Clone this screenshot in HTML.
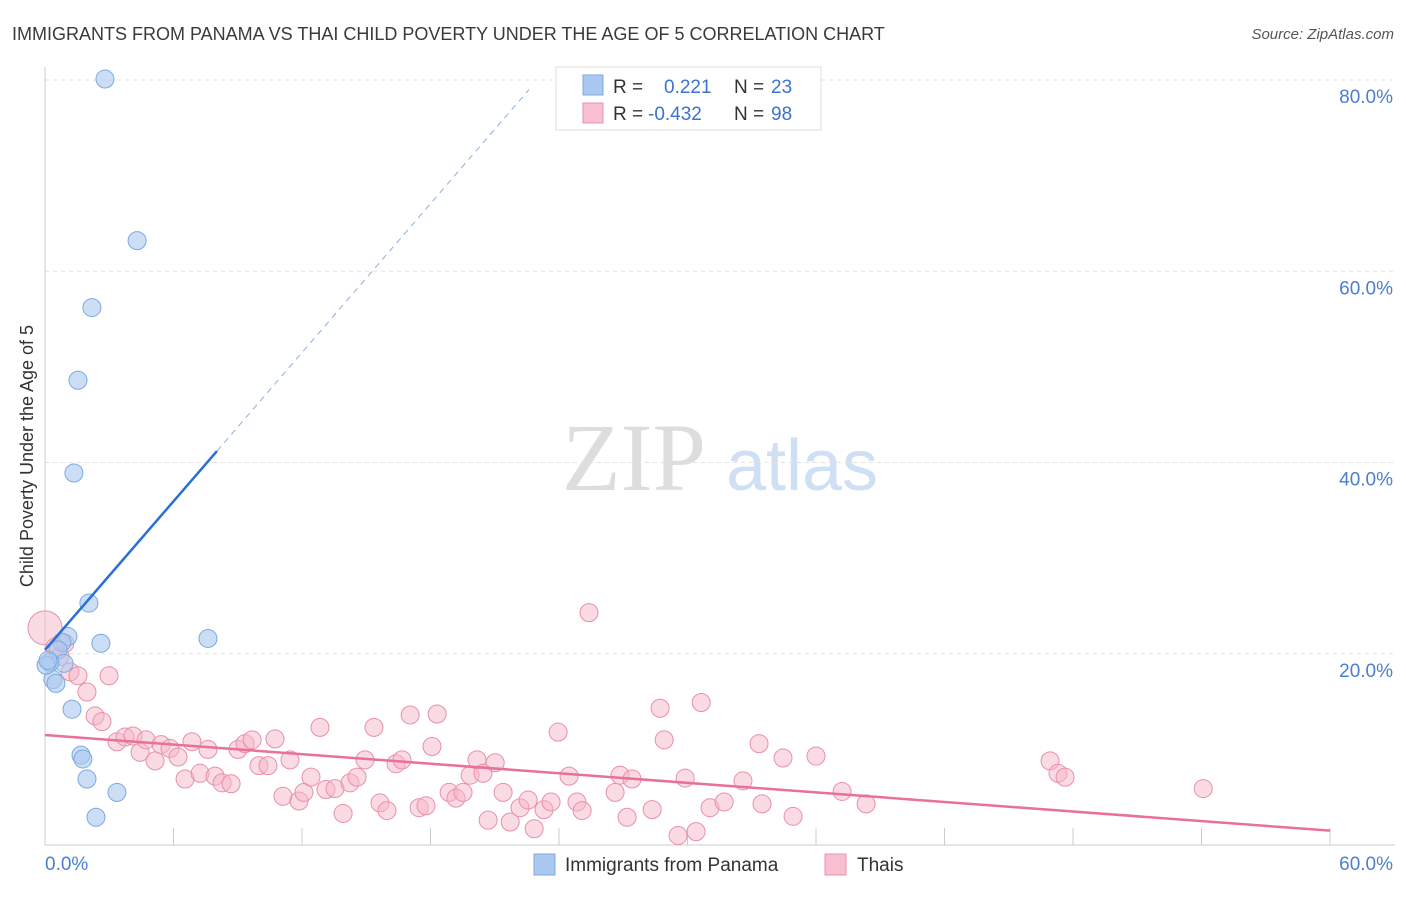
<!DOCTYPE html>
<html><head><meta charset="utf-8"><style>
body{margin:0;background:#fff;font-family:"Liberation Sans",sans-serif;}
</style></head><body>
<svg width="1406" height="892" xmlns="http://www.w3.org/2000/svg">
<text x="12" y="40" font-size="18" fill="#3a3a3a">IMMIGRANTS FROM PANAMA VS THAI CHILD POVERTY UNDER THE AGE OF 5 CORRELATION CHART</text>
<text x="1394" y="39" font-size="15" fill="#555" font-style="italic" text-anchor="end">Source: ZipAtlas.com</text>
<text transform="translate(33,456) rotate(-90)" font-size="18" fill="#333" text-anchor="middle">Child Poverty Under the Age of 5</text>
<g>
<text x="634" y="490" font-size="96" font-family="Liberation Serif,serif" fill="#ddd" text-anchor="middle">ZIP</text>
<text x="802" y="490" font-size="72" fill="#cfe0f5" text-anchor="middle">atlas</text>
</g>
<g id="grid"></g><g id="axes"></g><g id="marks"></g>
<g>
<rect x="556" y="67" width="265" height="63" fill="#fff" stroke="#ddd"/>
<rect x="583" y="75" width="20" height="20" fill="#aac8f0" stroke="#7aaae0"/>
<rect x="583" y="103" width="20" height="20" fill="#f7bfd0" stroke="#e890a8"/>
<text x="613" y="93" font-size="19" fill="#333">R = </text><text x="664" y="93" font-size="19" fill="#3a73d0">0.221</text>
<text x="734" y="93" font-size="19" fill="#333">N = </text><text x="771" y="93" font-size="19" fill="#3a73d0">23</text>
<text x="613" y="120" font-size="19" fill="#333">R = </text><text x="648" y="120" font-size="19" fill="#3a73d0">-0.432</text>
<text x="734" y="120" font-size="19" fill="#333">N = </text><text x="771" y="120" font-size="19" fill="#3a73d0">98</text>
</g>
<g>
<rect x="534" y="854" width="21" height="21" fill="#aac8f0" stroke="#7aaae0"/>
<text x="565" y="871" font-size="19" fill="#333">Immigrants from Panama</text>
<rect x="825" y="854" width="21" height="21" fill="#f7bfd0" stroke="#e890a8"/>
<text x="857" y="871" font-size="19" fill="#333">Thais</text>
</g>
</svg>
<script>
const yTicks=[20,40,60,80];
const yTickLabels=["20.0%","40.0%","60.0%","80.0%"];
const xTickLabels=["0.0%","60.0%"];
const blueX=[2.80,4.30,2.19,1.54,1.35,2.05,1.07,2.61,7.61,0.79,0.61,0.89,0.23,0.37,0.51,1.26,1.68,1.77,1.96,3.36,2.38,0.05,0.14];
const blueY=[80.1,63.2,56.2,48.6,38.9,25.3,21.8,21.1,21.6,21.2,20.4,19.0,19.1,17.3,16.9,14.2,9.4,9.0,6.9,5.5,2.9,18.8,19.3];
const pinkX=[0,0.47,0.70,0.93,1.17,1.54,1.96,2.34,2.66,2.99,3.36,3.74,4.11,4.44,4.72,5.14,5.42,5.84,6.21,6.54,6.86,7.24,7.61,7.94,8.27,8.69,9.01,9.34,9.67,9.99,10.41,10.74,11.11,11.44,11.86,12.09,12.42,12.84,13.12,13.54,13.92,14.24,14.57,14.94,15.36,15.64,15.97,16.39,16.67,17.05,17.47,17.79,18.07,18.31,18.87,19.19,19.52,19.85,20.17,20.45,20.69,21.02,21.39,21.72,22.18,22.56,22.84,23.30,23.63,23.96,24.47,24.84,25.08,25.40,26.62,26.85,27.18,27.41,28.35,28.72,28.91,29.56,29.89,30.40,30.64,31.05,31.71,32.59,33.34,33.48,34.46,34.93,36.00,37.22,38.34,46.93,47.30,47.63,54.08];
const pinkY=[22.7,20.7,19.7,21.1,18.1,17.7,16.0,13.5,12.9,17.7,10.8,11.3,11.4,9.7,11.0,8.8,10.5,10.1,9.2,6.9,10.8,7.5,10.0,7.2,6.5,6.4,10.0,10.6,11.0,8.3,8.3,11.1,5.1,8.9,4.6,5.5,7.1,12.3,5.8,5.9,3.3,6.5,7.1,8.9,12.3,4.4,3.6,8.5,8.9,13.6,3.9,4.1,10.3,13.7,5.5,4.9,5.5,7.3,8.9,7.5,2.6,8.6,5.5,2.4,3.9,4.7,1.7,3.7,4.5,11.8,7.2,4.5,3.6,24.3,5.5,7.3,2.9,6.9,3.7,14.3,11.0,1.0,7.0,1.4,14.9,3.9,4.5,6.7,10.6,4.3,9.1,3.0,9.3,5.6,4.3,8.8,7.5,7.1,5.9];
const blueLine=[0,20.4,8.03,41.2]; // x0,y0,x1,y1 solid
const blueDash=[8.03,41.2,22.6,79.0];
const pinkLine=[0,11.5,60,1.5];
const X=v=>45+v/60*1285, Y=v=>845-v/80*765;
const NS="http://www.w3.org/2000/svg";
function mk(t,a,p){const e=document.createElementNS(NS,t);for(const k in a)e.setAttribute(k,a[k]);p.appendChild(e);return e;}
const grid=document.getElementById('grid'),axes=document.getElementById('axes'),marks=document.getElementById('marks');
yTicks.forEach((t,i)=>{
 const l=mk('line',{x1:45,x2:1395,y1:Y(t),y2:Y(t),stroke:'#e2e2e2','stroke-dasharray':'4,4'},grid);
 
 
 const tx=mk('text',{x:1393,y:Y(t)+23,'font-size':19,fill:'#4a7fd0','text-anchor':'end'},axes);
 tx.textContent=yTickLabels[i];
 
 
});
const ax=mk('line',{x1:45,x2:45,y1:67,y2:845,stroke:'#ccc'},axes);


const bx=mk('line',{x1:45,x2:1395,y1:845,y2:845,stroke:'#ccc'},axes);


for(let i=1;i<=10;i++){const tk=mk('line',{x1:X(i*6),x2:X(i*6),y1:828,y2:845,stroke:'#ccc'},axes);
 
 }
const xl0=mk('text',{x:45,y:870,'font-size':19,fill:'#4a7fd0'},axes);xl0.textContent=xTickLabels[0];


const xl1=mk('text',{x:1393,y:870,'font-size':19,fill:'#4a7fd0','text-anchor':'end'},axes);xl1.textContent=xTickLabels[1];


pinkX.forEach((x,i)=>{const c=mk('circle',{cx:X(x),cy:Y(pinkY[i]),r:i===0?17:9,fill:'#f5b8c8','fill-opacity':0.5,stroke:'#e890a8','stroke-width':1},marks);
 
 });
blueX.forEach((x,i)=>{const c=mk('circle',{cx:X(x),cy:Y(blueY[i]),r:9,fill:'#aac8f0','fill-opacity':0.6,stroke:'#7aaae0','stroke-width':1},marks);
 
 });
const pl=mk('line',{x1:X(pinkLine[0]),y1:Y(pinkLine[1]),x2:X(pinkLine[2]),y2:Y(pinkLine[3]),stroke:'#e8709a','stroke-width':2.5},marks);


const bl=mk('line',{x1:X(blueLine[0]),y1:Y(blueLine[1]),x2:X(blueLine[2]),y2:Y(blueLine[3]),stroke:'#2a6fd6','stroke-width':2.5},marks);


const bd=mk('line',{x1:X(blueDash[0]),y1:Y(blueDash[1]),x2:X(blueDash[2]),y2:Y(blueDash[3]),stroke:'#8ab0e0','stroke-width':1,'stroke-dasharray':'6,5'},marks);


</script>
</body></html>
